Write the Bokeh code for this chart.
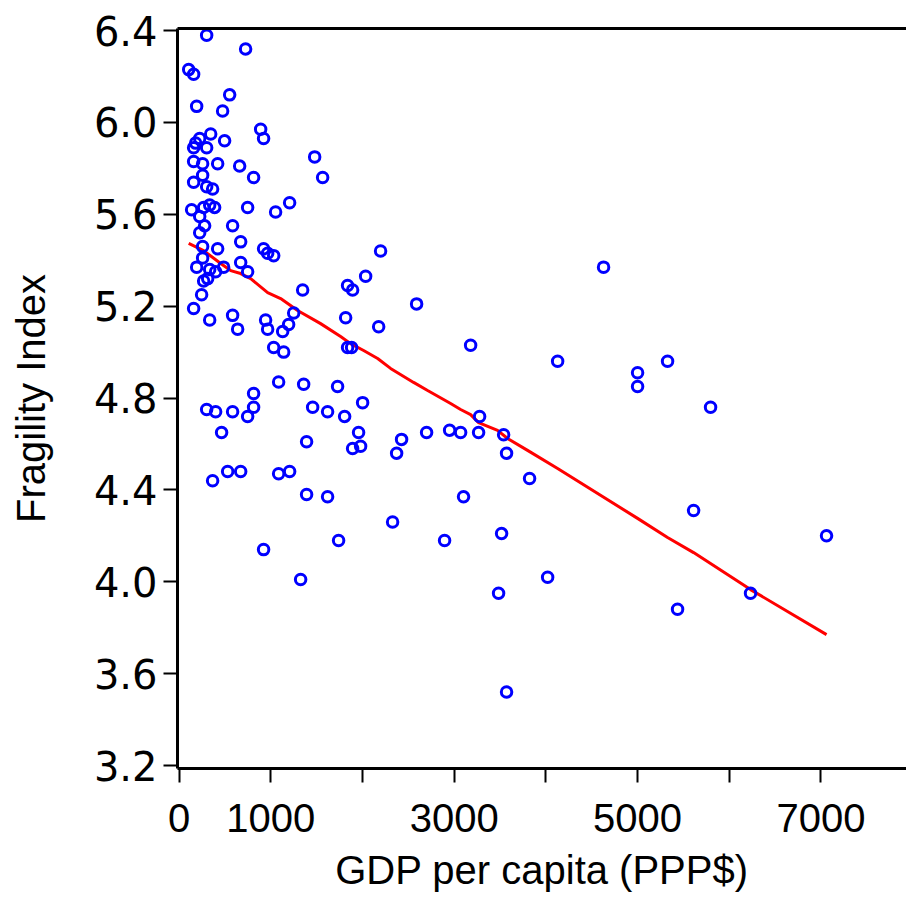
from bokeh.plotting import figure
from bokeh.models import Range1d, FixedTicker, LinearAxis, PrintfTickFormatter
from bokeh.embed import file_html
from bokeh.resources import INLINE

gdp = [300, 725, 104, 158, 551, 191, 474, 889, 921, 344,
       224, 158, 180, 300, 496, 1478, 158, 256, 420, 660,
       1565, 812, 256, 158, 300, 365, 1205, 747, 136, 267,
       333, 387, 1052, 224, 278, 583, 224, 671, 256, 420,
       921, 965, 1031, 256, 191, 671, 485, 747, 333, 398,
       267, 311, 245, 1347, 1837, 1892, 2034, 158, 333, 583,
       638, 943, 965, 1129, 1194, 1249, 1816, 1837, 1881, 1031,
       1140, 1085, 1358, 1728, 812, 2001, 812, 300, 398, 583,
       747, 1456, 1619, 1805, 463, 1957, 1390, 1892, 1979, 529,
       671, 365, 1085, 1205, 1390, 1619, 1739, 921, 1325, 2197,
       2590, 2176, 3179, 4128, 2426, 2372, 2699, 2950, 3070, 3266,
       3277, 3539, 3571, 3822, 3102, 2328, 2895, 3517, 4019, 3484,
       3571, 4629, 5000, 5000, 5327, 5796, 5611, 7061, 5436, 6232]

fragility = [6.38, 6.32, 6.23, 6.21, 6.12, 6.07, 6.05, 5.97, 5.93, 5.95,
             5.93, 5.89, 5.91, 5.89, 5.92, 5.85, 5.83, 5.82, 5.82, 5.81,
             5.76, 5.76, 5.77, 5.74, 5.72, 5.71, 5.65, 5.63, 5.62, 5.63,
             5.64, 5.63, 5.61, 5.59, 5.55, 5.55, 5.52, 5.48, 5.46, 5.45,
             5.45, 5.43, 5.42, 5.41, 5.37, 5.39, 5.37, 5.35, 5.36, 5.35,
             5.31, 5.32, 5.25, 5.27, 5.29, 5.27, 5.33, 5.19, 5.14, 5.16,
             5.10, 5.14, 5.10, 5.09, 5.12, 5.17, 5.15, 5.02, 5.02, 5.02,
             5.00, 4.87, 4.86, 4.85, 4.82, 4.78, 4.76, 4.75, 4.74, 4.74,
             4.72, 4.76, 4.74, 4.72, 4.65, 4.65, 4.61, 4.58, 4.59, 4.48,
             4.48, 4.44, 4.47, 4.48, 4.38, 4.37, 4.18, 4.14, 4.01, 5.44,
             5.21, 5.11, 5.03, 4.96, 4.62, 4.56, 4.65, 4.66, 4.65, 4.65,
             4.72, 4.64, 4.56, 4.45, 4.37, 4.26, 4.18, 4.21, 4.02, 3.95,
             3.52, 5.37, 4.91, 4.85, 4.96, 4.76, 4.31, 4.20, 3.88, 3.95]

fit_x = [104, 267, 453, 562, 671, 780, 965, 1107, 1292, 1543,
         1761, 1870, 2012, 2165, 2306, 2557, 2710, 2961, 3070, 3179,
         3266, 3473, 3582, 3800, 4128, 5000, 5327, 5611, 6232, 7061]
fit_y = [5.473, 5.442, 5.386, 5.355, 5.342, 5.320, 5.259, 5.233, 5.181, 5.124,
         5.068, 5.037, 5.007, 4.972, 4.929, 4.868, 4.833, 4.776, 4.750, 4.728,
         4.693, 4.659, 4.624, 4.572, 4.493, 4.276, 4.193, 4.127, 3.966, 3.770]

x_ticks = [0, 1000, 2000, 3000, 4000, 5000, 6000, 7000]
x_tick_labels = {2000: "", 4000: "", 6000: ""}
y_ticks = [3.2, 3.6, 4.0, 4.4, 4.8, 5.2, 5.6, 6.0, 6.4]

p = figure(width=906, height=903, output_backend="svg", toolbar_location=None,
           x_range=Range1d(-18, 7933), y_range=Range1d(3.187, 6.409),
           min_border_left=177, min_border_right=0, min_border_top=28, min_border_bottom=135)
p.outline_line_color = None
p.grid.visible = False
p.background_fill_color = "white"
p.border_fill_color = "white"

p.line(fit_x, fit_y, line_color="#FF0000", line_width=3)
p.scatter(gdp, fragility, marker="circle", size=10.5, fill_color=None,
          line_color="#0000FF", line_width=3)

xa = p.xaxis[0]
xa.ticker = FixedTicker(ticks=x_ticks)
xa.major_label_overrides = x_tick_labels
xa.minor_tick_line_color = None
xa.major_tick_out = 14
xa.major_tick_in = 0
xa.major_tick_line_width = 2
xa.axis_line_width = 3
xa.major_label_text_font = "Arial"
xa.major_label_text_font_size = "40px"
xa.major_label_text_color = "black"
xa.major_label_standoff = 21
xa.axis_label = "GDP per capita (PPP$)"
xa.axis_label_text_font = "Arial"
xa.axis_label_text_font_size = "40px"
xa.axis_label_text_font_style = "normal"
xa.axis_label_text_color = "black"
xa.axis_label_standoff = 13

ya = p.yaxis[0]
ya.ticker = FixedTicker(ticks=y_ticks)
ya.formatter = PrintfTickFormatter(format="%.1f")
ya.minor_tick_line_color = None
ya.major_tick_out = 14
ya.major_tick_in = 0
ya.major_tick_line_width = 2
ya.axis_line_width = 3
ya.major_label_text_font = "DejaVu Sans"
ya.major_label_text_font_size = "40px"
ya.major_label_text_color = "black"
ya.major_label_standoff = 6
ya.axis_label = "Fragility Index"
ya.axis_label_text_font = "Arial"
ya.axis_label_text_font_size = "40px"
ya.axis_label_text_font_style = "normal"
ya.axis_label_text_color = "black"
ya.axis_label_standoff = 38

top = LinearAxis(ticker=FixedTicker(ticks=[]), axis_line_width=3,
                 major_label_text_font_size="0px", minor_tick_line_color=None,
                 major_tick_line_color=None)
p.add_layout(top, "above")

open("out.html", "w").write(file_html(p, INLINE))
